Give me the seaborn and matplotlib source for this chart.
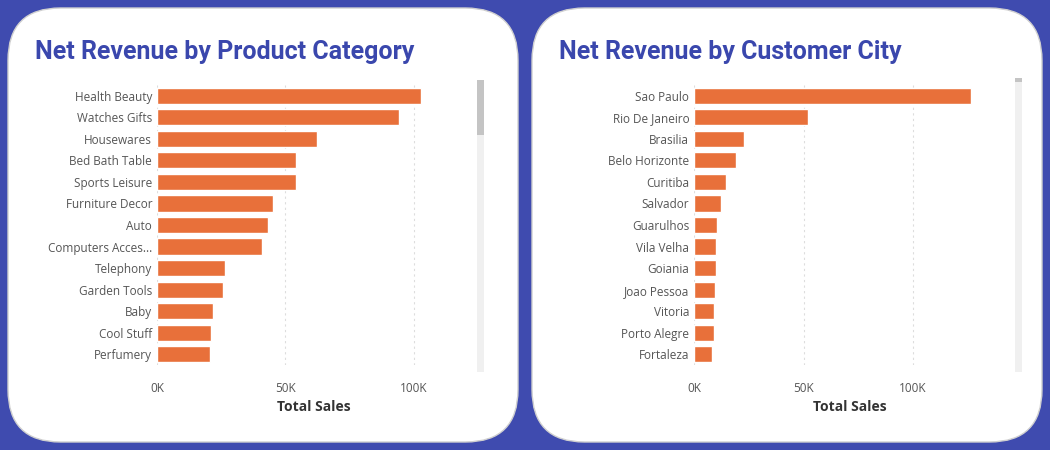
import matplotlib
matplotlib.use('Agg')
import matplotlib.pyplot as plt
import seaborn as sns
import pandas as pd
from matplotlib.patches import FancyBboxPatch, Rectangle
from matplotlib.ticker import FuncFormatter

sns.set_style('white')
plt.rcParams['font.family'] = ['Open Sans', 'DejaVu Sans']

categories = ['Health Beauty', 'Watches Gifts', 'Housewares', 'Bed Bath Table', 'Sports Leisure',
              'Furniture Decor', 'Auto', 'Computers Acces...', 'Telephony', 'Garden Tools',
              'Baby', 'Cool Stuff', 'Perfumery']
cat_sales = [103000, 94500, 62500, 54300, 54000, 45300, 43400, 41000, 26600, 25800, 21900, 21100, 20700]

cities = ['Sao Paulo', 'Rio De Janeiro', 'Brasilia', 'Belo Horizonte', 'Curitiba', 'Salvador',
          'Guarulhos', 'Vila Velha', 'Goiania', 'Joao Pessoa', 'Vitoria', 'Porto Alegre', 'Fortaleza']
city_sales = [126500, 52000, 22800, 19200, 14600, 12300, 10500, 10000, 10000, 9600, 9100, 9100, 8200]

W, H = 1050, 450
fig = plt.figure(figsize=(10.5, 4.5), dpi=100)
fig.patch.set_facecolor('#3F4BAF')

def px(x, y, w, h):
    return [x / W, 1 - (y + h) / H, w / W, h / H]

panels = [
    dict(px=8, title='Net Revenue by Product Category', ax=(157, 85, 313, 280), xmax=122000,
         names=categories, vals=cat_sales, sb=477, thumb=(80, 55)),
    dict(px=532, title='Net Revenue by Customer City', ax=(694, 85, 311, 280), xmax=142000,
         names=cities, vals=city_sales, sb=1015, thumb=(78, 4)),
]

for p in panels:
    x0 = p['px']
    fig.patches.append(FancyBboxPatch((x0 / W, 8 / H), 510 / W, 434 / H,
                                      boxstyle='round,pad=0,rounding_size=0.05',
                                      transform=fig.transFigure, facecolor='white',
                                      edgecolor='#D0D0D0', lw=1, mutation_aspect=W / H))
    fig.text((x0 + 27) / W, 1 - 52 / H, p['title'], fontsize=18, fontweight='bold',
             color='#3A47AD', family=['Roboto', 'DejaVu Sans'], va='center')
    # scrollbar
    fig.patches.append(Rectangle((p['sb'] / W, 1 - 372 / H), 7 / W, 292 / H,
                                 transform=fig.transFigure, facecolor='#F0F0F0', edgecolor='none'))
    ty, th = p['thumb']
    fig.patches.append(Rectangle((p['sb'] / W, 1 - (ty + th) / H), 7 / W, th / H,
                                 transform=fig.transFigure, facecolor='#C4C4C4', edgecolor='none'))

    ax = fig.add_axes(px(*p['ax']))
    ax.set_zorder(5)
    ax.patch.set_alpha(0)
    df = pd.DataFrame({'name': p['names'], 'sales': p['vals']})
    sns.barplot(data=df, x='sales', y='name', color='#E8703A', width=0.75, ax=ax, saturation=1)
    ax.set_xlim(0, p['xmax'])
    ax.set_xticks([0, 50000, 100000])
    ax.xaxis.set_major_formatter(FuncFormatter(lambda v, _: f'{int(v / 1000)}K'))
    ax.grid(axis='x', linestyle=(0, (2, 3)), color='#DDDDDD', lw=0.8)
    ax.set_axisbelow(True)
    for s in ax.spines.values():
        s.set_visible(False)
    ax.tick_params(axis='both', length=0, labelsize=8.5, colors='#555555')
    ax.tick_params(axis='x', pad=12)
    ax.set_ylabel('')
    ax.set_xlabel('Total Sales', fontsize=10, fontweight='bold', color='#333333', labelpad=4)

fig.savefig('out.png', dpi=100, facecolor=fig.get_facecolor())
